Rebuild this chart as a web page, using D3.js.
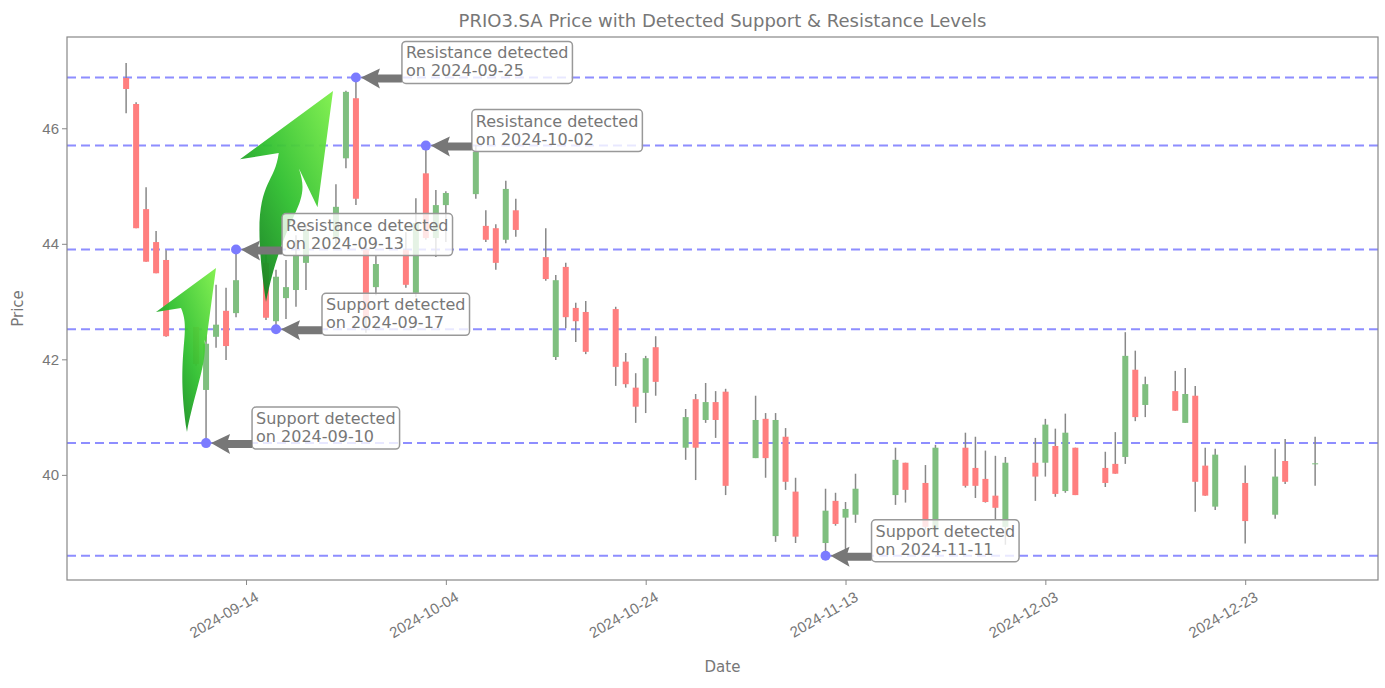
<!DOCTYPE html>
<html><head><meta charset="utf-8">
<script src="https://cdn.jsdelivr.net/npm/d3@7"></script>
<style>body{margin:0;background:#fff;font-family:"DejaVu Sans",sans-serif;}</style>
</head><body><svg id="c" width="1385" height="688"></svg>
<script>
const dates=["2024-09-02","2024-09-03","2024-09-04","2024-09-05","2024-09-06","2024-09-09","2024-09-10","2024-09-11","2024-09-12","2024-09-13",
"2024-09-16","2024-09-17","2024-09-18","2024-09-19","2024-09-20","2024-09-23","2024-09-24","2024-09-25","2024-09-26","2024-09-27",
"2024-09-30","2024-10-01","2024-10-02","2024-10-03","2024-10-04","2024-10-07","2024-10-08","2024-10-09","2024-10-10","2024-10-11",
"2024-10-14","2024-10-15","2024-10-16","2024-10-17","2024-10-18","2024-10-21","2024-10-22","2024-10-23","2024-10-24","2024-10-25",
"2024-10-28","2024-10-29","2024-10-30","2024-10-31","2024-11-01","2024-11-04","2024-11-05","2024-11-06","2024-11-07","2024-11-08",
"2024-11-11","2024-11-12","2024-11-13","2024-11-14","2024-11-18","2024-11-19","2024-11-21","2024-11-22","2024-11-25","2024-11-26",
"2024-11-27","2024-11-28","2024-11-29","2024-12-02","2024-12-03","2024-12-04","2024-12-05","2024-12-06","2024-12-09","2024-12-10",
"2024-12-11","2024-12-12","2024-12-13","2024-12-16","2024-12-17","2024-12-18","2024-12-19","2024-12-20","2024-12-23","2024-12-26",
"2024-12-27","2024-12-30"];
const open=[46.87,46.42,44.60,44.03,43.72,42.56,41.47,42.39,42.84,42.80,
43.67,42.66,43.06,43.20,43.67,44.12,45.48,46.52,43.89,43.25,
43.89,43.15,45.22,44.10,44.67,44.86,44.31,44.27,44.07,44.58,
43.77,42.04,43.60,42.89,42.82,42.87,41.96,41.51,41.42,42.21,
40.47,41.31,40.95,41.26,41.44,40.29,40.97,38.94,40.66,39.71,
38.82,39.55,39.26,39.31,39.65,40.21,39.86,39.05,40.47,40.12,
39.93,39.64,39.10,40.21,40.21,40.50,39.72,40.47,40.12,40.19,
40.31,41.82,41.21,41.45,40.90,41.37,40.16,39.45,39.86,39.31,
40.24,40.20];
const high=[47.13,46.45,44.98,44.22,43.89,42.56,42.40,43.29,43.24,43.91,
43.81,43.55,43.72,44.15,44.33,45.03,46.65,46.89,44.00,43.79,
44.20,44.79,45.71,44.93,44.91,45.71,44.58,44.34,45.09,44.78,
44.27,43.46,43.67,42.98,43.01,42.91,42.11,41.76,42.06,42.40,
41.14,41.40,41.59,41.45,41.49,41.37,41.07,41.07,40.81,39.95,
39.76,39.69,39.53,40.02,40.47,40.21,40.17,40.52,40.73,40.66,
40.42,40.33,40.31,40.64,40.97,40.80,41.06,40.47,40.40,40.74,
42.47,42.15,41.70,41.80,41.85,41.54,40.47,40.45,40.16,40.45,
40.62,40.66];
const low=[46.26,44.27,43.69,43.49,42.39,41.89,40.55,42.20,41.99,42.73,
42.68,42.53,42.70,42.91,43.20,44.00,45.31,44.67,42.46,43.11,
43.24,43.08,44.07,43.77,44.03,44.78,44.03,43.55,44.01,44.12,
43.36,41.99,42.54,42.30,42.09,41.54,41.51,40.90,41.07,41.37,
40.26,39.91,40.90,40.64,39.65,40.29,39.95,38.84,39.74,38.82,
38.60,39.12,38.70,39.17,39.48,39.52,39.05,39.01,39.78,39.60,
39.52,39.22,38.79,39.55,39.97,39.62,39.69,39.65,39.79,40.02,
40.19,40.93,41.00,41.11,40.90,39.36,39.64,39.39,38.81,39.24,
39.84,39.81];
const close=[46.68,44.27,43.69,43.49,42.40,41.92,42.27,42.60,42.23,43.37,
42.72,43.43,43.25,43.81,44.24,44.64,46.63,44.78,42.72,43.65,
43.29,44.36,44.10,44.67,44.88,45.59,44.07,43.67,44.95,44.24,
43.39,43.37,42.73,42.66,42.13,41.87,41.57,41.18,42.02,41.61,
41.00,40.47,41.26,40.95,39.81,40.95,40.29,40.95,39.88,38.93,
39.38,39.15,39.41,39.76,40.26,39.74,39.10,40.47,39.81,39.81,
39.53,39.43,40.21,39.97,40.87,39.67,40.73,39.65,39.86,40.02,
42.06,41.00,41.57,41.11,41.40,39.88,39.64,40.35,39.20,39.97,
39.88,40.20];
const levels=[46.88,45.70,43.90,42.52,40.55,38.60];
const events=[{d:"2024-09-10",v:40.55,t:"Support"},{d:"2024-09-13",v:43.90,t:"Resistance"},{d:"2024-09-17",v:42.52,t:"Support"},
{d:"2024-09-25",v:46.88,t:"Resistance"},{d:"2024-10-02",v:45.70,t:"Resistance"},{d:"2024-11-11",v:38.60,t:"Support"}];
const xTicks=["2024-09-14","2024-10-04","2024-10-24","2024-11-13","2024-12-03","2024-12-23"];
const yTicks=[40,42,44,46];

const P=d3.timeParse("%Y-%m-%d");
const svg=d3.select("#c");
const L=67,R=1378,T=37,B=580;
const x=d3.scaleTime().domain([new Date(2024,7,27,2),new Date(2025,0,5,7)]).range([L,R]);
const y=d3.scaleLinear().domain([38.18,47.58]).range([B,T]);
const grey="#777";
const defs=svg.append("defs");
const g1=defs.append("linearGradient").attr("id","gg").attr("x1","0").attr("y1","1").attr("x2","1").attr("y2","0");
g1.append("stop").attr("offset","0").attr("stop-color","#0a6b1a");
g1.append("stop").attr("offset","0.5").attr("stop-color","#2fbf2f");
g1.append("stop").attr("offset","1").attr("stop-color","#7ef04a");

svg.append("text").attr("x",(L+R)/2).attr("y",27).attr("text-anchor","middle").attr("font-size",18).attr("fill",grey)
 .text("PRIO3.SA Price with Detected Support & Resistance Levels");

svg.selectAll(".lv").data(levels).enter().append("line").attr("x1",L).attr("x2",R)
 .attr("y1",d=>y(d)).attr("y2",d=>y(d)).attr("stroke","#7b7bff").attr("stroke-width",2).attr("stroke-dasharray","9,5").attr("opacity",0.85);

const data=dates.map((d,i)=>({d:P(d),o:open[i],h:high[i],l:low[i],c:close[i]}));
const bw=6;
const cg=svg.append("g");
cg.selectAll(".w").data(data).enter().append("line").attr("x1",d=>x(d.d)).attr("x2",d=>x(d.d))
 .attr("y1",d=>y(d.h)).attr("y2",d=>y(d.l)).attr("stroke","#888").attr("stroke-width",1.5);
cg.selectAll(".b").data(data).enter().append("rect").attr("x",d=>x(d.d)-bw/2).attr("width",bw)
 .attr("y",d=>y(Math.max(d.o,d.c))).attr("height",d=>Math.max(1,Math.abs(y(d.o)-y(d.c))))
 .attr("fill",d=>d.c>=d.o?"#7fbf7f":"#ff7f7f");

function swirl(x0,y0,x1,y1,s){
 const p=d3.path();
 p.moveTo(x0,y0);
 p.bezierCurveTo(x0-12*s,y0-80*s,x0+5*s,y1+65*s,x1-35*s,y1+40*s);
 p.lineTo(x1-60*s,y1+44*s);
 p.lineTo(x1,y1);
 p.lineTo(x1-10*s,y1+75*s);
 p.lineTo(x1-22*s,y1+50*s);
 p.bezierCurveTo(x0+30*s,y1+75*s,x0+12*s,y0-60*s,x0,y0);
 return p.toString();
}
svg.append("path").attr("d",swirl(187,432,216,268,1)).attr("fill","url(#gg)").attr("opacity",0.95);
svg.append("path").attr("d",swirl(266,302,333,91,1.55)).attr("fill","url(#gg)").attr("opacity",0.95);

const eg=svg.append("g");
events.forEach(e=>{
 const px=x(P(e.d)),py=y(e.v);
 const bx=px+45;
 const lines=[e.t+" detected","on "+e.d];
 const tg=eg.append("g");
 const t=tg.append("text").attr("font-size",16).attr("fill",grey);
 t.append("tspan").attr("x",bx+5).attr("y",py-19).text(lines[0]);
 t.append("tspan").attr("x",bx+5).attr("y",py-1).text(lines[1]);
 const bb=t.node().getBBox();
 tg.insert("rect","text").attr("x",bb.x-4).attr("y",bb.y-2).attr("width",bb.width+8).attr("height",bb.height+5)
  .attr("rx",4).attr("fill","white").attr("fill-opacity",0.8).attr("stroke","#999").attr("stroke-width",1.5);
 const ax=bb.x-4, ay=py+1;
 eg.append("path").attr("d",`M${ax},${ay-4}L${px+22},${ay-4}L${px+24},${ay-10}L${px+5},${py}L${px+24},${ay+10}L${px+22},${ay+4}L${ax},${ay+4}Z`)
  .attr("fill","#777");
 eg.append("circle").attr("cx",px).attr("cy",py).attr("r",5).attr("fill","#7b7bff");
});

const ax=svg.append("g").attr("transform",`translate(0,${B})`).call(d3.axisBottom(x).tickValues(xTicks.map(P)).tickFormat(d3.timeFormat("%Y-%m-%d")).tickSize(5));
ax.selectAll("text").attr("font-size",15).attr("fill",grey).attr("text-anchor","end").attr("transform","translate(4,4) rotate(-30)");
const ay2=svg.append("g").attr("transform",`translate(${L},0)`).call(d3.axisLeft(y).tickValues(yTicks).tickFormat(d3.format("d")).tickSize(5));
ay2.selectAll("text").attr("font-size",15).attr("fill",grey);
[ax,ay2].forEach(a=>{a.selectAll("line").attr("stroke","#888");a.select(".domain").remove();});
svg.append("rect").attr("x",L).attr("y",T).attr("width",R-L).attr("height",B-T).attr("fill","none").attr("stroke","#888").attr("stroke-width",1.2);
svg.append("text").attr("x",(L+R)/2).attr("y",672).attr("text-anchor","middle").attr("font-size",15).attr("fill",grey).text("Date");
svg.append("text").attr("transform",`translate(23,${(T+B)/2}) rotate(-90)`).attr("text-anchor","middle").attr("font-size",15).attr("fill",grey).text("Price");
</script></body></html>
